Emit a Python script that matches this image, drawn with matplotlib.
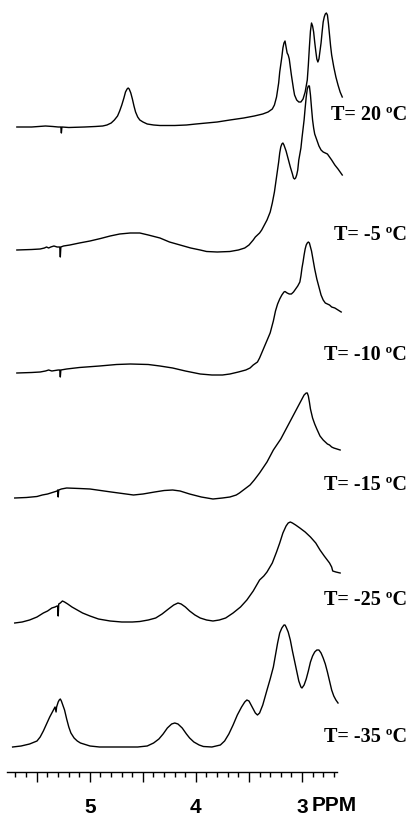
import matplotlib.pyplot as plt

# Spectra: (chemical shift in ppm, height above the trace baseline)
t20 = [(5.69, 0), (5.55, 0), (5.42, 1), (5.35, 0.5), (5.30, 0), (5.275, 0), (5.27, -6), (5.265, 0),
       (5.20, -0.5), (5.05, 0), (4.95, 0.5), (4.88, 1), (4.84, 2), (4.80, 4), (4.77, 7), (4.74, 11),
       (4.72, 16), (4.70, 22), (4.68, 29), (4.665, 35), (4.65, 38), (4.64, 39), (4.63, 38), (4.615, 34),
       (4.60, 28), (4.585, 21), (4.57, 15), (4.55, 10), (4.53, 7), (4.50, 5), (4.46, 3), (4.40, 2),
       (4.34, 1.5), (4.20, 1.5), (4.09, 2), (4.00, 3), (3.90, 4), (3.80, 5), (3.68, 7), (3.55, 9),
       (3.45, 11), (3.37, 13), (3.32, 15), (3.28, 18), (3.26, 22), (3.24, 30), (3.22, 44), (3.21, 55),
       (3.19, 70), (3.18, 79), (3.17, 84), (3.16, 86), (3.15, 80), (3.14, 74), (3.13, 72), (3.12, 68),
       (3.11, 60), (3.10, 52), (3.09, 45), (3.08, 38), (3.07, 32), (3.05, 27), (3.03, 25), (3.01, 25),
       (2.99, 28), (2.97, 35), (2.95, 47), (2.94, 62), (2.93, 80), (2.92, 96), (2.91, 104), (2.90, 101),
       (2.89, 95), (2.88, 85), (2.87, 76), (2.86, 68), (2.85, 65), (2.84, 68), (2.83, 76), (2.82, 84),
       (2.81, 95), (2.80, 105), (2.79, 110), (2.78, 113), (2.77, 114), (2.76, 112), (2.75, 103),
       (2.74, 92), (2.73, 81), (2.72, 72), (2.71, 66), (2.70, 60), (2.68, 50), (2.66, 42), (2.64, 35),
       (2.62, 30)]

tm5 = [(5.69, 0), (5.55, 0.5), (5.47, 1), (5.43, 2), (5.41, 3), (5.39, 2), (5.37, 3), (5.34, 4),
       (5.31, 3), (5.285, 3), (5.28, -7), (5.275, 3), (5.25, 4), (5.19, 5), (5.10, 7), (5.00, 9),
       (4.90, 11.5), (4.81, 14), (4.72, 16), (4.62, 17), (4.53, 17), (4.45, 15), (4.34, 12), (4.25, 8),
       (4.15, 5), (4.05, 2), (3.96, 0), (3.90, -1.5), (3.80, -2), (3.68, -1.5), (3.60, 0), (3.54, 2),
       (3.50, 5), (3.46, 10), (3.44, 13), (3.42, 15), (3.40, 17), (3.38, 20), (3.36, 24), (3.33, 30),
       (3.30, 38), (3.28, 47), (3.26, 58), (3.24, 73), (3.22, 88), (3.21, 97), (3.20, 103), (3.19, 106),
       (3.18, 107), (3.17, 105), (3.16, 102), (3.15, 99), (3.13, 91), (3.11, 83), (3.09, 76), (3.08, 72),
       (3.07, 71), (3.06, 72), (3.05, 75), (3.04, 80), (3.03, 90), (3.01, 102), (3.00, 112), (2.98, 130),
       (2.97, 142), (2.96, 153), (2.95, 161), (2.94, 164), (2.93, 164), (2.92, 155), (2.91, 142),
       (2.90, 130), (2.89, 122), (2.88, 116), (2.86, 110), (2.84, 104), (2.82, 100), (2.80, 98),
       (2.78, 97), (2.76, 96), (2.74, 93), (2.72, 90), (2.69, 85), (2.66, 81), (2.62, 75)]

tm10 = [(5.69, 0), (5.55, 0.5), (5.47, 1), (5.42, 2), (5.39, 3), (5.36, 2), (5.33, 2.5), (5.30, 3),
        (5.285, 3), (5.28, -4), (5.275, 3), (5.22, 4), (5.10, 5.5), (4.91, 7), (4.75, 8.5), (4.62, 9),
        (4.45, 8.5), (4.34, 7), (4.22, 5), (4.10, 2), (3.96, -1), (3.85, -2), (3.75, -2), (3.68, -1),
        (3.60, 1), (3.53, 3), (3.49, 5), (3.46, 8), (3.42, 11), (3.40, 15), (3.38, 20), (3.34, 30),
        (3.30, 40), (3.27, 52), (3.25, 62), (3.23, 69), (3.21, 74), (3.19, 78), (3.17, 81), (3.16, 81.5),
        (3.14, 80), (3.12, 79), (3.10, 79), (3.08, 81), (3.06, 84), (3.04, 87), (3.02, 91), (3.01, 97),
        (3.00, 105), (2.99, 111), (2.98, 118), (2.97, 124), (2.96, 128), (2.95, 130), (2.94, 131),
        (2.93, 130), (2.92, 126), (2.91, 122), (2.90, 116), (2.89, 110), (2.88, 104), (2.87, 99),
        (2.86, 94), (2.84, 86), (2.82, 78), (2.80, 73), (2.78, 70), (2.74, 68), (2.72, 66), (2.69, 65),
        (2.66, 63), (2.63, 61)]

tm15 = [(5.71, 0), (5.60, 0.5), (5.50, 1.5), (5.45, 3), (5.40, 4), (5.37, 5), (5.34, 6), (5.31, 7),
        (5.305, 8), (5.30, 1), (5.295, 8), (5.27, 9), (5.22, 10), (5.10, 9.5), (5.00, 9), (4.80, 6),
        (4.59, 3), (4.50, 4), (4.39, 6), (4.30, 7.5), (4.22, 8), (4.15, 7), (4.06, 4), (3.95, 1),
        (3.84, -1), (3.75, 0), (3.68, 1), (3.62, 3), (3.59, 5), (3.54, 9), (3.49, 13), (3.45, 18),
        (3.40, 25), (3.33, 36), (3.27, 48), (3.20, 59), (3.14, 71), (3.08, 83), (3.02, 95), (3.00, 99),
        (2.98, 103), (2.96, 105), (2.95, 105), (2.94, 102), (2.93, 96), (2.92, 89), (2.90, 80),
        (2.88, 74), (2.86, 69), (2.83, 62), (2.80, 58), (2.78, 56), (2.76, 54), (2.74, 53), (2.72, 51),
        (2.70, 50), (2.67, 49), (2.64, 48)]

tm25 = [(5.71, 0), (5.64, 1), (5.57, 3), (5.50, 6), (5.44, 10), (5.40, 12), (5.36, 15), (5.33, 16),
        (5.31, 17), (5.305, 17), (5.30, 7), (5.295, 19), (5.28, 20), (5.26, 22), (5.24, 21), (5.21, 19),
        (5.17, 16), (5.12, 13), (5.07, 10), (5.00, 7), (4.92, 4), (4.81, 2), (4.70, 1), (4.60, 1),
        (4.53, 1.5), (4.45, 3), (4.38, 5), (4.32, 9), (4.26, 14), (4.21, 18), (4.17, 20), (4.14, 19),
        (4.10, 16), (4.06, 12), (4.01, 8), (3.96, 5), (3.90, 3), (3.84, 2), (3.78, 3), (3.72, 5),
        (3.65, 10), (3.58, 16), (3.52, 23), (3.46, 32), (3.40, 43), (3.36, 47), (3.33, 51), (3.28, 60),
        (3.24, 71), (3.21, 80), (3.18, 90), (3.15, 97), (3.13, 100), (3.11, 101), (3.09, 100), (3.06, 98),
        (3.02, 95), (2.97, 91), (2.92, 86), (2.87, 80), (2.83, 73), (2.79, 67), (2.74, 60), (2.72, 56),
        (2.71, 52), (2.68, 51), (2.64, 50)]

tm35 = [(5.73, 0), (5.65, 1), (5.57, 3), (5.50, 6), (5.47, 10), (5.44, 16), (5.41, 23), (5.38, 30),
        (5.35, 36), (5.33, 40), (5.32, 35), (5.315, 40), (5.30, 45), (5.29, 47), (5.28, 48), (5.27, 46),
        (5.26, 43), (5.24, 37), (5.22, 28), (5.20, 20), (5.18, 14), (5.15, 9), (5.12, 6), (5.09, 4),
        (5.00, 1), (4.91, 0), (4.70, 0), (4.55, 0), (4.46, 1), (4.40, 4), (4.35, 8), (4.31, 13),
        (4.27, 19), (4.23, 23), (4.20, 24), (4.17, 23), (4.13, 19), (4.09, 13), (4.06, 9), (4.02, 5),
        (3.97, 2), (3.93, 0.5), (3.85, 0), (3.77, 2), (3.73, 6), (3.69, 13), (3.65, 22), (3.61, 32),
        (3.57, 40), (3.54, 45), (3.52, 47), (3.50, 46), (3.47, 40), (3.44, 34), (3.42, 32), (3.40, 34),
        (3.37, 42), (3.33, 57), (3.30, 68), (3.27, 80), (3.25, 92), (3.23, 104), (3.21, 114), (3.19, 119),
        (3.17, 122), (3.16, 122), (3.15, 120), (3.13, 115), (3.11, 107), (3.09, 96), (3.07, 86),
        (3.05, 76), (3.03, 66), (3.01, 60), (3.00, 59), (2.98, 62), (2.96, 68), (2.94, 76), (2.92, 85),
        (2.90, 91), (2.88, 95), (2.86, 97), (2.84, 97), (2.82, 94), (2.80, 89), (2.78, 83), (2.76, 75),
        (2.74, 66), (2.72, 57), (2.70, 51), (2.68, 47), (2.66, 44)]

labels = ["T= 20 \u00baC", "T= -5 \u00baC", "T= -10 \u00baC", "T= -15 \u00baC", "T= -25 \u00baC", "T= -35 \u00baC"]
spectra = [t20, tm5, tm10, tm15, tm25, tm35]

# stacking offsets and label heights (vertical units = pixels from bottom)
offsets = [690, 567, 444, 319, 194, 70]
label_y = [702, 582, 462, 332, 217, 80]

fig = plt.figure(figsize=(4.12, 8.17), dpi=100)
ax = fig.add_axes([0, 0, 1, 1])
ax.set_xlim(5.849, 1.962)
ax.set_ylim(0, 817)
ax.axis("off")

for trace, off, lab, ly in zip(spectra, offsets, labels, label_y):
    x = [p[0] for p in trace]
    y = [p[1] + off for p in trace]
    ax.plot(x, y, color="black", lw=1.0)
    ax.text(0.988, ly, lab, transform=ax.get_yaxis_transform(), ha="right", va="center",
            family="Liberation Serif", fontweight="bold", fontsize=14.5)

# ppm scale underneath
sc = fig.add_axes([7 / 412, 45 / 817, 330 / 412, 0.01])
sc.set_xlim(5.78, 2.67)
for s in ["top", "left", "right"]:
    sc.spines[s].set_visible(False)
sc.spines["bottom"].set_linewidth(1.0)
sc.set_yticks([])
sc.set_xticks([5.5, 5.0, 4.5, 4.0, 3.5, 3.0])
sc.set_xticklabels(["", "5", "", "4", "", "3"], family="Liberation Sans", fontweight="bold", fontsize=15)
sc.set_xticks([5.7, 5.6, 5.4, 5.3, 5.2, 5.1, 4.9, 4.8, 4.7, 4.6, 4.4, 4.3, 4.2, 4.1,
               3.9, 3.8, 3.7, 3.6, 3.4, 3.3, 3.2, 3.1, 2.9, 2.8, 2.7], minor=True)
sc.tick_params(axis="x", which="major", direction="out", length=7.5, width=1.0, pad=11)
sc.tick_params(axis="x", which="minor", direction="out", length=3.6, width=1.0)
sc.text(2.91, -4.16, "PPM", transform=sc.get_xaxis_transform(), ha="left", va="center",
        family="Liberation Sans", fontweight="bold", fontsize=15)

fig.savefig("out.png", dpi=100)
